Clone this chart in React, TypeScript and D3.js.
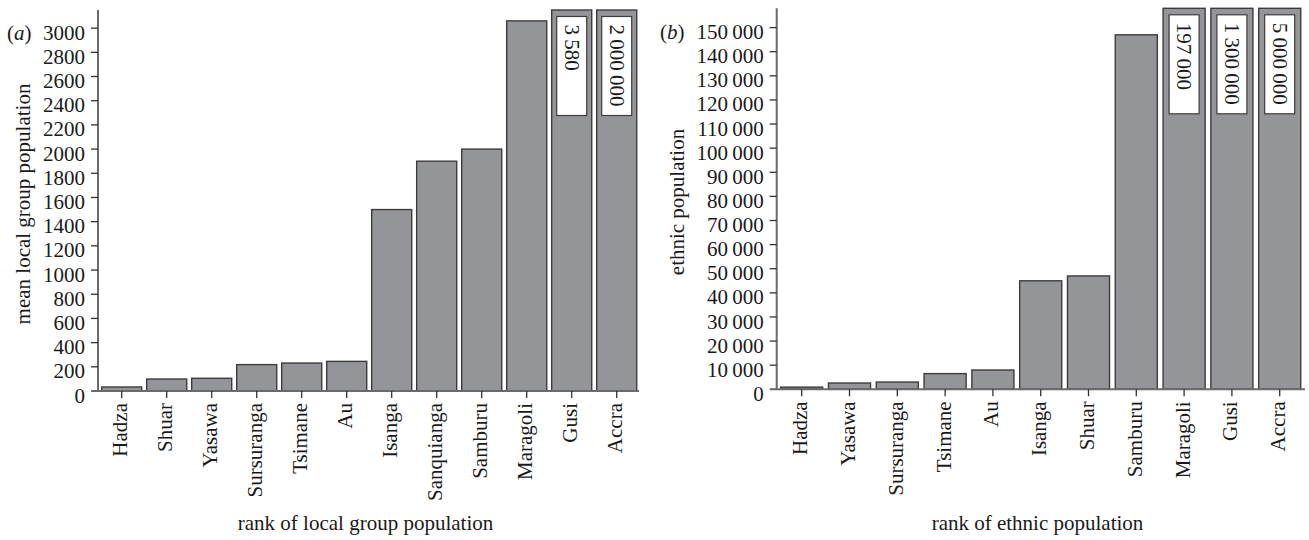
import React from "react";
import * as d3 from "d3";

// ---------- data ----------
const localCategories = ["Hadza", "Shuar", "Yasawa", "Sursuranga", "Tsimane", "Au", "Isanga", "Sanquianga", "Samburu", "Maragoli", "Gusi", "Accra"];
const localValues = [33, 99, 105, 218, 231, 245, 1500, 1900, 2000, 3060, 3580, 2000000];
const localTicks = d3.range(0, 3001, 200);

const ethnicCategories = ["Hadza", "Yasawa", "Sursuranga", "Tsimane", "Au", "Isanga", "Shuar", "Samburu", "Maragoli", "Gusi", "Accra"];
const ethnicValues = [900, 2600, 3000, 6500, 8000, 45000, 47000, 147000, 197000, 1300000, 5000000];
const ethnicTicks = d3.range(0, 150001, 10000);

const FONT = "'Liberation Serif', 'Times New Roman', serif";
const FS = 21;
const BAR_FILL = "#949598";
const BAR_STROKE = "#3c3c3c";
const AXIS = "#6a6a6a";

const fmt = (v: number) => {
  const s = String(Math.round(v));
  if (s.length <= 4 && v < 10000) return s;
  return s.replace(/\B(?=(\d{3})+(?!\d))/g, "\u2009");
};
const fmtLabel = (v: number) => String(Math.round(v)).replace(/\B(?=(\d{3})+(?!\d))/g, "\u2009");

type PanelProps = {
  tag: string;
  categories: string[];
  values: number[];
  ticks: number[];
  yMax: number;
  yBottom: number;
  yTop: number;
  xStart: number;
  xEnd: number;
  padding: number;
  axisX: number;
  xAxisFrom: number;
  xAxisTo: number;
  yTitle: string;
  yTitleX: number;
  yTitleY: number;
  xTitle: string;
  tagX: number;
};

function Panel(p: PanelProps) {
  const x = d3.scaleBand<string>().domain(p.categories).range([p.xStart, p.xEnd]).paddingInner(p.padding).paddingOuter(p.padding / 2);
  const y = d3.scaleLinear().domain([0, p.yMax]).range([p.yBottom, p.yTop]);
  const bw = x.bandwidth();
  return (
    <g>
      {/* bars */}
      {p.categories.map((c, i) => {
        const v = Math.min(p.values[i], p.yMax);
        const x0 = x(c)!;
        return (
          <rect key={c} x={x0} y={y(v)} width={bw} height={y(0) - y(v)} fill={BAR_FILL} stroke={BAR_STROKE} strokeWidth={1.4} />
        );
      })}
      {/* labels for truncated bars */}
      {p.categories.map((c, i) => {
        if (p.values[i] <= p.yMax) return null;
        const cx = x(c)! + bw / 2;
        const top = y(p.yMax) + 6.5;
        const w = 30;
        const h = 99;
        return (
          <g key={"lab" + c}>
            <rect x={cx - w / 2} y={top} width={w} height={h} fill="#ffffff" stroke={BAR_STROKE} strokeWidth={1.2} />
            <text
              transform={`translate(${cx},${top + 8}) rotate(90)`}
              textAnchor="start"
              dy="0.33em"
              fontFamily={FONT}
              fontSize={FS}
              fill="#1a1a1a"
            >
              {fmtLabel(p.values[i])}
            </text>
          </g>
        );
      })}
      {/* y axis */}
      <line x1={p.axisX} x2={p.axisX} y1={p.yTop} y2={p.yBottom} stroke={AXIS} strokeWidth={2} />
      {p.ticks.map((t) => (
        <g key={"yt" + t}>
          <line x1={p.axisX - 7} x2={p.axisX} y1={y(t)} y2={y(t)} stroke="#333" strokeWidth={1.3} />
          <text x={p.axisX - 13} y={y(t)} dy="0.55em" textAnchor="end" fontFamily={FONT} fontSize={FS} fill="#1a1a1a">
            {fmt(t)}
          </text>
        </g>
      ))}
      {/* x axis */}
      <line x1={p.xAxisFrom} x2={p.xAxisTo} y1={p.yBottom} y2={p.yBottom} stroke={AXIS} strokeWidth={2} />
      {p.categories.map((c) => {
        const cx = x(c)! + bw / 2;
        return (
          <g key={"xt" + c}>
            <line x1={cx} x2={cx} y1={p.yBottom} y2={p.yBottom + 7} stroke="#333" strokeWidth={1.3} />
            <text transform={`translate(${cx},${p.yBottom + 12}) rotate(-90)`} dy="0.26em" textAnchor="end" fontFamily={FONT} fontSize={FS} fill="#1a1a1a">
              {c}
            </text>
          </g>
        );
      })}
      {/* titles */}
      <text transform={`translate(${p.yTitleX},${p.yTitleY}) rotate(-90)`} textAnchor="middle" fontFamily={FONT} fontSize={FS} fill="#1a1a1a">
        {p.yTitle}
      </text>
      <text x={(p.xAxisFrom + p.xAxisTo) / 2} y={530} textAnchor="middle" fontFamily={FONT} fontSize={FS} fill="#1a1a1a">
        {p.xTitle}
      </text>
      <text x={p.tagX} y={y(p.ticks[p.ticks.length - 1])} dy="0.55em" fontFamily={FONT} fontSize={FS} fill="#1a1a1a">
        (<tspan fontStyle="italic">{p.tag}</tspan>)
      </text>
    </g>
  );
}

export default function App() {
  return (
    <svg width={1309} height={540} style={{ position: "absolute", left: 0, top: 0, background: "#fff" }}>
      <Panel
        tag="a"
        categories={localCategories}
        values={localValues}
        ticks={localTicks}
        yMax={3150}
        yBottom={391}
        yTop={10}
        xStart={99.2}
        xEnd={639.2}
        padding={0.11}
        axisX={98}
        xAxisFrom={92}
        xAxisTo={639}
        yTitle="mean local group population"
        yTitleX={30}
        yTitleY={204}
        xTitle="rank of local group population"
        tagX={7}
      />
      <Panel
        tag="b"
        categories={ethnicCategories}
        values={ethnicValues}
        ticks={ethnicTicks}
        yMax={158000}
        yBottom={389.3}
        yTop={8.3}
        xStart={777.8}
        xEnd={1303.6}
        padding={0.12}
        axisX={776.7}
        xAxisFrom={770}
        xAxisTo={1305}
        yTitle="ethnic population"
        yTitleX={684}
        yTitleY={202}
        xTitle="rank of ethnic population"
        tagX={660}
      />
    </svg>
  );
}
